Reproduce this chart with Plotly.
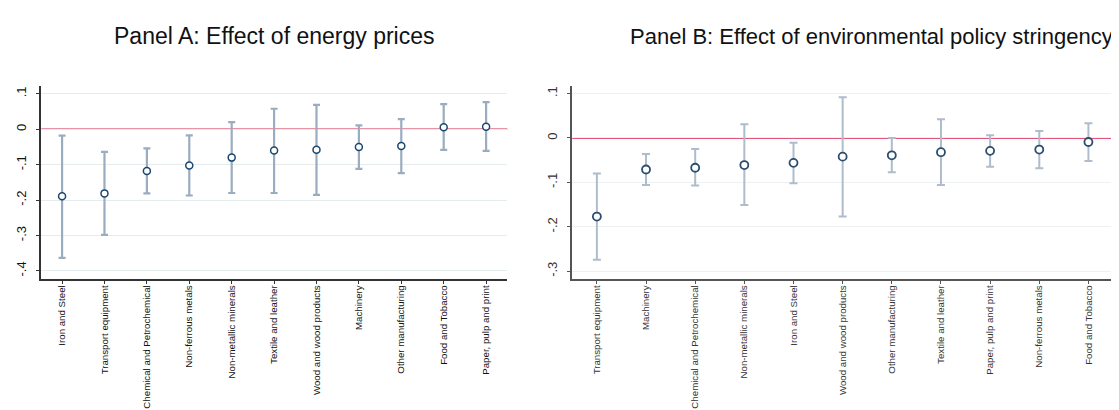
import plotly.graph_objects as go

# Panel A: Effect of energy prices
cats_a = ["Iron and Steel", "Transport equipment", "Chemical and Petrochemical",
          "Non-ferrous metals", "Non-metallic minerals", "Textile and leather",
          "Wood and wood products", "Machinery", "Other manufacturing",
          "Food and Tobacco", "Paper, pulp and print"]
est_a = [-0.189, -0.181, -0.118, -0.102, -0.080, -0.060, -0.058, -0.050, -0.047, 0.006, 0.007]
hi_a = [-0.018, -0.064, -0.054, -0.017, 0.020, 0.058, 0.069, 0.011, 0.029, 0.071, 0.077]
lo_a = [-0.363, -0.298, -0.181, -0.187, -0.180, -0.180, -0.185, -0.112, -0.124, -0.058, -0.061]

# Panel B: Effect of environmental policy stringency
cats_b = ["Transport equipment", "Machinery", "Chemical and Petrochemical",
          "Non-metallic minerals", "Iron and Steel", "Wood and wood products",
          "Other manufacturing", "Textile and leather", "Paper, pulp and print",
          "Non-ferrous metals", "Food and Tobacco"]
est_b = [-0.177, -0.071, -0.067, -0.061, -0.056, -0.042, -0.039, -0.032, -0.029, -0.026, -0.009]
hi_b = [-0.080, -0.036, -0.025, 0.031, -0.011, 0.092, 0.000, 0.042, 0.006, 0.016, 0.033]
lo_b = [-0.274, -0.106, -0.107, -0.151, -0.102, -0.177, -0.077, -0.106, -0.065, -0.068, -0.052]

ytick_a = [-0.4, -0.3, -0.2, -0.1, 0.0, 0.1]
ytext_a = ["-.4", "-.3", "-.2", "-.1", "0", ".1"]
ytick_b = [-0.3, -0.2, -0.1, 0.0, 0.1]
ytext_b = ["-.3", "-.2", "-.1", "0", ".1"]

W, H = 1119, 410
FONT = "Liberation Sans, Arial, sans-serif"
BAR = "#9aacbf"
NAVY = "#1a476f"
RED = "#d4294f"
GRID = "#e4ecee"


def px_x(p):
    return p / W


def px_y(p):
    return 1 - p / H


fig = go.Figure()

fig.add_trace(go.Scatter(
    x=list(range(len(cats_a))), y=est_a, mode="markers",
    error_y=dict(type="data", symmetric=False,
                 array=[h - e for h, e in zip(hi_a, est_a)],
                 arrayminus=[e - l for e, l in zip(est_a, lo_a)],
                 color=BAR, thickness=2.2, width=3.5),
    marker=dict(symbol="circle", size=7, color="white",
                line=dict(color=NAVY, width=1.5)),
    xaxis="x", yaxis="y", showlegend=False, hoverinfo="skip"))

fig.add_trace(go.Scatter(
    x=list(range(len(cats_b))), y=est_b, mode="markers",
    error_y=dict(type="data", symmetric=False,
                 array=[h - e for h, e in zip(hi_b, est_b)],
                 arrayminus=[e - l for e, l in zip(est_b, lo_b)],
                 color="#aebccb", thickness=2, width=4),
    marker=dict(symbol="circle", size=8, color="white",
                line=dict(color="#2b4e6e", width=1.8)),
    xaxis="x2", yaxis="y2", showlegend=False, hoverinfo="skip"))

common_x = dict(showline=True, linecolor="#333333", linewidth=1.5, ticks="outside",
                ticklen=4, tickcolor="#333333", tickwidth=1.3, tickangle=-90,
                showgrid=False, zeroline=False, tickmode="array",
                ticklabelstandoff=-3)
common_y = dict(showline=True, linecolor="#333333", linewidth=1.5, ticks="outside",
                ticklen=4, tickcolor="#333333", tickwidth=1.3, tickangle=-90,
                showgrid=True, gridcolor=GRID, gridwidth=1, zeroline=False,
                tickmode="array", ticklabelstandoff=4)

fig.update_layout(
    width=W, height=H, margin=dict(l=0, r=0, t=0, b=0),
    paper_bgcolor="white", plot_bgcolor="white",
    font=dict(family=FONT, color="#111111"),
    xaxis=dict(common_x, domain=[px_x(33.3), px_x(499.3)], range=[-0.49, 10.5],
               tickvals=list(range(len(cats_a))), ticktext=cats_a,
               tickfont=dict(size=9.7, color="#111111"), anchor="y"),
    yaxis=dict(common_y, domain=[px_y(270.7), px_y(78)], range=[-0.422, 0.1223],
               tickvals=ytick_a, ticktext=ytext_a,
               tickfont=dict(size=13, color="#111111"), anchor="x"),
    xaxis2=dict(common_x, domain=[px_x(564.3), px_x(1105)], range=[-0.5, 10.5],
                tickvals=list(range(len(cats_b))), ticktext=cats_b,
                linecolor="#555555", tickcolor="#555555",
                tickfont=dict(size=9.7, color="#333333"), anchor="y2"),
    yaxis2=dict(common_y, domain=[px_y(270.7), px_y(78.3)], range=[-0.3169, 0.1164],
                tickvals=ytick_b, ticktext=ytext_b,
                linecolor="#555555", tickcolor="#555555", gridcolor="#eef1f2",
                tickfont=dict(size=13, color="#333333"), anchor="x2"),
)

# zero reference lines
fig.add_shape(type="line", xref="x domain", yref="y", x0=0, x1=1, y0=0, y1=0,
              line=dict(color=RED, width=1.6), layer="below")
fig.add_shape(type="line", xref="x2 domain", yref="y2", x0=0, x1=1, y0=0, y1=0,
              line=dict(color="#e0557a", width=2), layer="below")

# titles
fig.add_annotation(text="Panel A: Effect of energy prices", xref="paper", yref="paper",
                   x=px_x(265.5), y=px_y(28), xanchor="center", yanchor="middle",
                   showarrow=False, font=dict(family=FONT, size=23, color="#111111"))
fig.add_annotation(text="Panel B: Effect of environmental policy stringency",
                   xref="paper", yref="paper",
                   x=px_x(863), y=px_y(28), xanchor="center", yanchor="middle",
                   showarrow=False, font=dict(family=FONT, size=22, color="#111111"))

fig.write_html("out.html")
